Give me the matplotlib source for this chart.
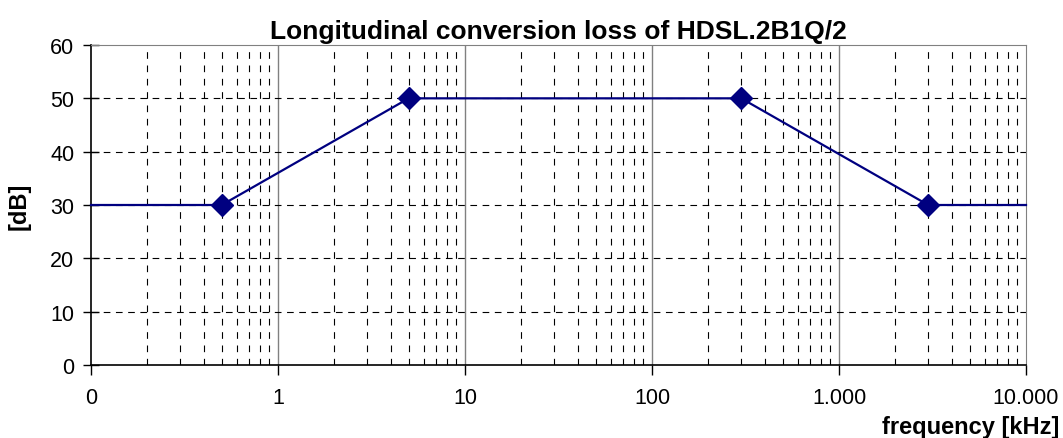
import numpy as np
import matplotlib.pyplot as plt
from matplotlib.ticker import FixedLocator, LogLocator, NullFormatter

plt.rcParams['font.family'] = ['Liberation Sans', 'DejaVu Sans']

# data
freq = [0.1, 0.5, 5, 300, 3000, 10000]
loss = [30, 30, 50, 50, 30, 30]
mark_freq = [0.5, 5, 300, 3000]
mark_loss = [30, 50, 50, 30]
xticks = [0.1, 1, 10, 100, 1000, 10000]
xtick_labels = ['0', '1', '10', '100', '1.000', '10.000']
yticks = [0, 10, 20, 30, 40, 50, 60]

navy = '#000080'

fig = plt.figure(figsize=(10.63, 4.39), dpi=100)
ax = fig.add_axes([91 / 1063, 1 - 366 / 439, (1026 - 91) / 1063, (366 - 46) / 439])

ax.set_xscale('log')
ax.set_xlim(0.1, 10000)
ax.set_ylim(0, 60)

# grid
ax.xaxis.set_major_locator(FixedLocator(xticks))
ax.xaxis.set_minor_locator(LogLocator(base=10, subs=np.arange(2, 10), numticks=20))
ax.xaxis.set_minor_formatter(NullFormatter())
ax.set_xticklabels(xtick_labels)
ax.set_yticks(yticks)

for t in [1, 10, 100, 1000]:
    ax.axvline(t, color='#808080', lw=1, zorder=1)
ax.grid(True, which='minor', axis='x', color='black', ls=(0, (6, 6)), lw=0.8, zorder=1)
for v in yticks[1:-1]:
    ax.axhline(v, color='black', ls=(0, (6, 5)), lw=0.8, zorder=1)

ax.plot(freq, loss, color=navy, lw=1.6, zorder=3, clip_on=False)
ax.plot(mark_freq, mark_loss, ls='none', marker='D', ms=11.5, color=navy, zorder=4)

for s in ['top', 'right']:
    ax.spines[s].set_color('#808080')
for s in ['left', 'bottom']:
    ax.spines[s].set_color('black')
    ax.spines[s].set_linewidth(1.2)

ax.tick_params(axis='y', which='major', direction='inout', length=12, width=1, labelsize=15.5, pad=6)
ax.tick_params(axis='x', which='major', direction='out', length=7, width=1, labelsize=15.5, pad=9)
ax.tick_params(axis='x', which='minor', length=0)

ax.set_title('Longitudinal conversion loss of HDSL.2B1Q/2', fontsize=19, fontweight='bold', pad=5)
ax.set_ylabel('[dB]', fontsize=17, fontweight='bold', labelpad=14)
fig.text(1059 / 1063, 1 - 428 / 439, 'frequency [kHz]', fontsize=17, fontweight='bold',
         ha='right', va='center')

fig.savefig('out.png', dpi=100)
